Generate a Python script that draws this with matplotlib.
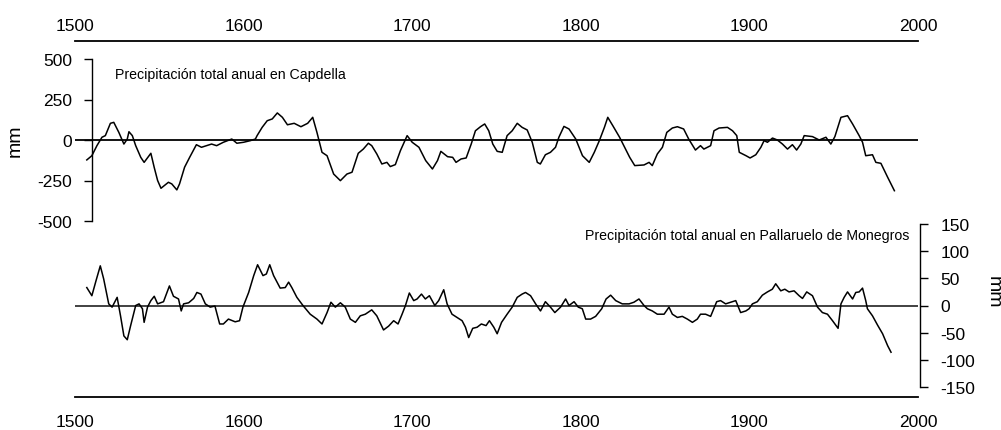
import matplotlib
matplotlib.use("Agg")
import matplotlib.pyplot as plt

plt.rcParams['font.family'] = ['Liberation Sans', 'DejaVu Sans']
plt.rcParams['axes.unicode_minus'] = False

# Capdella (upper series), mm anomaly
cap_years = [1507, 1510, 1513, 1516, 1518, 1521, 1523, 1526, 1529, 1531, 1532, 1534,
             1536, 1539, 1541, 1545, 1547, 1549, 1551, 1555.4, 1557.4, 1560.4, 1562,
             1565, 1568, 1572, 1575, 1578, 1581, 1584, 1588, 1593, 1596, 1600, 1604,
             1607, 1608, 1611, 1614, 1617, 1620, 1623, 1626, 1630, 1634, 1638, 1641,
             1643.5, 1646.5, 1649.5, 1653.4, 1657.4, 1661.3, 1664.3, 1668, 1671, 1674,
             1676, 1679, 1682, 1685, 1687, 1690, 1693, 1697, 1700, 1704, 1708, 1712,
             1715, 1717, 1721, 1724, 1726, 1729, 1732, 1735, 1737.5, 1740.5, 1743,
             1745.4, 1747.8, 1750.4, 1753.4, 1756.3, 1759.3, 1762.3, 1765.2, 1768.2,
             1771.2, 1774.2, 1776, 1779, 1782, 1785, 1787, 1790, 1793, 1797, 1801,
             1805, 1808, 1811, 1814, 1816, 1819, 1823, 1826, 1829, 1832, 1837.5,
             1840.5, 1842.4, 1845.4, 1848.4, 1851, 1854.3, 1857.3, 1861, 1864, 1868,
             1871, 1873, 1877, 1879, 1882, 1887, 1890, 1892.5, 1894, 1898, 1900.4,
             1903.8, 1906.8, 1908.7, 1910.7, 1913.7, 1916.6, 1919.6, 1922.6, 1925.5,
             1928, 1930.5, 1932.5, 1937.4, 1941.4, 1945.4, 1948.3, 1950.7, 1954.3,
             1958.2, 1961.2, 1965.1, 1967.1, 1969, 1973, 1975, 1978, 1982, 1986]
cap_vals = [-123, -97, -35, 17, 27, 103, 109, 47, -25, 6, 51, 27,
            -35, -107, -138, -82, -170, -250, -298, -261, -271, -308, -271,
            -168, -107, -29, -45, -35, -25, -35, -14, 6, -20, -14, -4,
            6, 27, 78, 119, 130, 167, 140, 94, 103, 82, 103, 140,
            47, -76, -97, -210, -251, -210, -199, -82, -56, -20,
            -35, -86, -148, -138, -164, -152, -66, 27, -14, -45, -127, -179,
            -127, -70, -103, -107, -138, -117, -111, -25, 57, 82, 99,
            57, -25, -70, -76, 27, 57, 103, 78, 62,
            -14, -138, -148, -91, -76, -45, 17, 84, 68, 6, -97,
            -138, -76, -4, 78, 140, 88, 17, -45, -107, -158, -154,
            -138, -158, -86, -45, 47, 74, 82, 68, 6, -62,
            -35, -56, -35, 57, 74, 78, 57, 27, -76, -97, -111,
            -91, -45, -4, -14, 12, 0, -25, -56, -29,
            -62, -25, 27, 21, 0, 17, -25, 21, 140,
            150, 99, 27, -14, -97, -91, -138, -144, -230, -313]

# Pallaruelo de Monegros (lower series), mm anomaly
pal_years = [1507, 1510, 1512.5, 1515, 1517, 1520, 1522, 1525, 1527, 1529, 1531, 1533,
             1536, 1538, 1540, 1541, 1543, 1545, 1547, 1549, 1552.5, 1556, 1558.4,
             1561.4, 1563, 1564.4, 1567.4, 1570.4, 1572.3, 1574.7, 1577.3, 1580.2,
             1583, 1585.8, 1588, 1591, 1595, 1597.6, 1599.6, 1603, 1606, 1608.3,
             1611.5, 1613.5, 1615.5, 1617.8, 1621.7, 1624.7, 1626.7, 1628.6, 1631.6,
             1635.2, 1639.5, 1643.5, 1646.5, 1649.5, 1651.8, 1654.4, 1657.4, 1660.3,
             1663.3, 1666.3, 1669.2, 1672.2, 1676, 1679, 1683, 1686, 1689, 1691.6,
             1694, 1696, 1698.3, 1700.9, 1702.9, 1705.5, 1707.8, 1710.2, 1713.4,
             1715.7, 1718.7, 1720.7, 1723.6, 1726.6, 1729.6, 1731.6, 1733.5, 1735.9,
             1738.5, 1741, 1743.8, 1745.8, 1748.4, 1750.4, 1753, 1756.3, 1759.3,
             1762.3, 1765.2, 1767.2, 1770.2, 1773.2, 1776.1, 1779, 1782, 1784.6,
             1788, 1791, 1793, 1796, 1798.5, 1800.9, 1802.9, 1805.8, 1808.8, 1812.4,
             1815, 1817.7, 1820.7, 1824.6, 1828.6, 1831.5, 1834.5, 1837.5, 1839.5,
             1842.4, 1845.4, 1849.4, 1852.3, 1854.3, 1857.3, 1860.2, 1863.2, 1866.2,
             1869.1, 1871, 1874, 1877, 1880.6, 1882.9, 1885.9, 1888.9, 1891.9, 1894.8,
             1897.9, 1899.8, 1901.8, 1904.7, 1907.7, 1910.7, 1913.6, 1915.6, 1918.6,
             1921, 1923.5, 1926.5, 1929.5, 1931.5, 1934, 1937.4, 1940.4, 1943.3,
             1946.3, 1949.3, 1952.6, 1954.3, 1956.2, 1958.2, 1961.2, 1963.1, 1965.1,
             1967.1, 1969, 1970, 1973, 1976, 1979, 1982, 1984]
pal_vals = [33, 18, 46, 73, 49, 3, -3, 15, -19, -56, -63, -37,
            0, 3, -6, -31, -3, 9, 17, 3, 7, 36, 17,
            12, -10, 3, 5, 13, 24, 21, 3, -3,
            -1, -34, -34, -25, -30, -28, -3, 24, 55, 75,
            55, 58, 75, 55, 32, 33, 43, 33, 15,
            0, -16, -25, -34, -13, 6, -3, 5, -3,
            -25, -31, -19, -16, -8, -19, -45, -38, -28, -34,
            -16, 0, 23, 9, 12, 21, 12, 18, 0,
            9, 29, 3, -16, -22, -28, -40, -59, -42,
            -40, -34, -37, -28, -40, -52, -31, -16, -3,
            15, 21, 24, 18, 3, -10, 7, -3, -13,
            -3, 12, 0, 7, -3, -6, -25, -25, -20, -6,
            12, 19, 9, 3, 3, 6, 12, 0, -6,
            -10, -16, -16, -3, -16, -22, -20, -25, -31,
            -25, -16, -16, -20, 7, 9, 3, 6, 9, -13,
            -10, -6, 3, 7, 19, 25, 30, 40, 27,
            30, 25, 27, 18, 13, 25, 18, -3, -13,
            -16, -28, -42, 3, 15, 25, 12, 24, 25,
            32, 9, -6, -19, -36, -52, -74, -86]

year_ticks = [1500, 1600, 1700, 1800, 1900, 2000]
cap_yticks = [-500, -250, 0, 250, 500]
pal_yticks = [-150, -100, -50, 0, 50, 100, 150]

W, H = 1001, 431
fig = plt.figure(figsize=(W / 100, H / 100), dpi=100)


def rect(x0, y0, x1, y1):
    # pixel box (top-left origin) -> figure fraction rect
    return [x0 / W, 1 - y1 / H, (x1 - x0) / W, (y1 - y0) / H]


# frame with the top and bottom year axes
axf = fig.add_axes(rect(75, 42, 918, 398))
axf.set_xlim(1500, 2000)
axf.set_ylim(0, 1)
axf.patch.set_alpha(0)
for s in ['left', 'right']:
    axf.spines[s].set_visible(False)
axf.spines['top'].set_linewidth(1.3)
axf.spines['bottom'].set_linewidth(1.3)
axf.set_yticks([])
axf.set_xticks(year_ticks)
axf.tick_params(axis='x', length=0, labelsize=12.5, pad=12.5)
secx = axf.secondary_xaxis('top')
secx.spines['top'].set_visible(False)
secx.set_xticks(year_ticks)
secx.tick_params(axis='x', length=0, labelsize=12.5, pad=5.5)

# upper panel: Capdella
ax1 = fig.add_axes(rect(75, 60, 918, 222))
ax1.patch.set_alpha(0)
ax1.set_xlim(1500, 2000)
ax1.set_ylim(-500, 500)
for s in ['top', 'right', 'bottom']:
    ax1.spines[s].set_visible(False)
ax1.spines['left'].set_position(('data', 1510))
ax1.spines['left'].set_linewidth(1.0)
ax1.set_xticks([])
ax1.set_yticks(cap_yticks)
ax1.tick_params(axis='y', length=6, width=1.0, pad=8, labelsize=12.5)
ax1.axhline(0, color='black', lw=1.3)
ax1.plot(cap_years, cap_vals, color='black', lw=1.1)
ax1.text(0.047, 0.91, 'Precipitación total anual en Capdella', transform=ax1.transAxes,
         fontsize=10.2, ha='left', va='center')

# lower panel: Pallaruelo de Monegros
ax2 = fig.add_axes(rect(75, 225, 918, 388))
ax2.patch.set_alpha(0)
ax2.set_xlim(1500, 2000)
ax2.set_ylim(-150, 150)
for s in ['top', 'left', 'bottom']:
    ax2.spines[s].set_visible(False)
ax2.spines['right'].set_position(('axes', 1.002))
ax2.spines['right'].set_linewidth(1.0)
ax2.set_xticks([])
ax2.yaxis.tick_right()
ax2.set_yticks(pal_yticks)
ax2.tick_params(axis='y', length=6, width=1.0, pad=9, labelsize=12.5)
ax2.axhline(0, color='#333333', lw=1.3)
ax2.plot(pal_years, pal_vals, color='black', lw=1.1)
ax2.text(0.99, 0.935, 'Precipitación total anual en Pallaruelo de Monegros',
         transform=ax2.transAxes, fontsize=10.2, ha='right', va='center')

fig.text(15 / W, 1 - 141 / H, 'mm', rotation=90, fontsize=14, ha='center', va='center')
fig.text(993 / W, 1 - 292 / H, 'mm', rotation=270, fontsize=14, ha='center', va='center')

fig.savefig('out.png', dpi=100)
